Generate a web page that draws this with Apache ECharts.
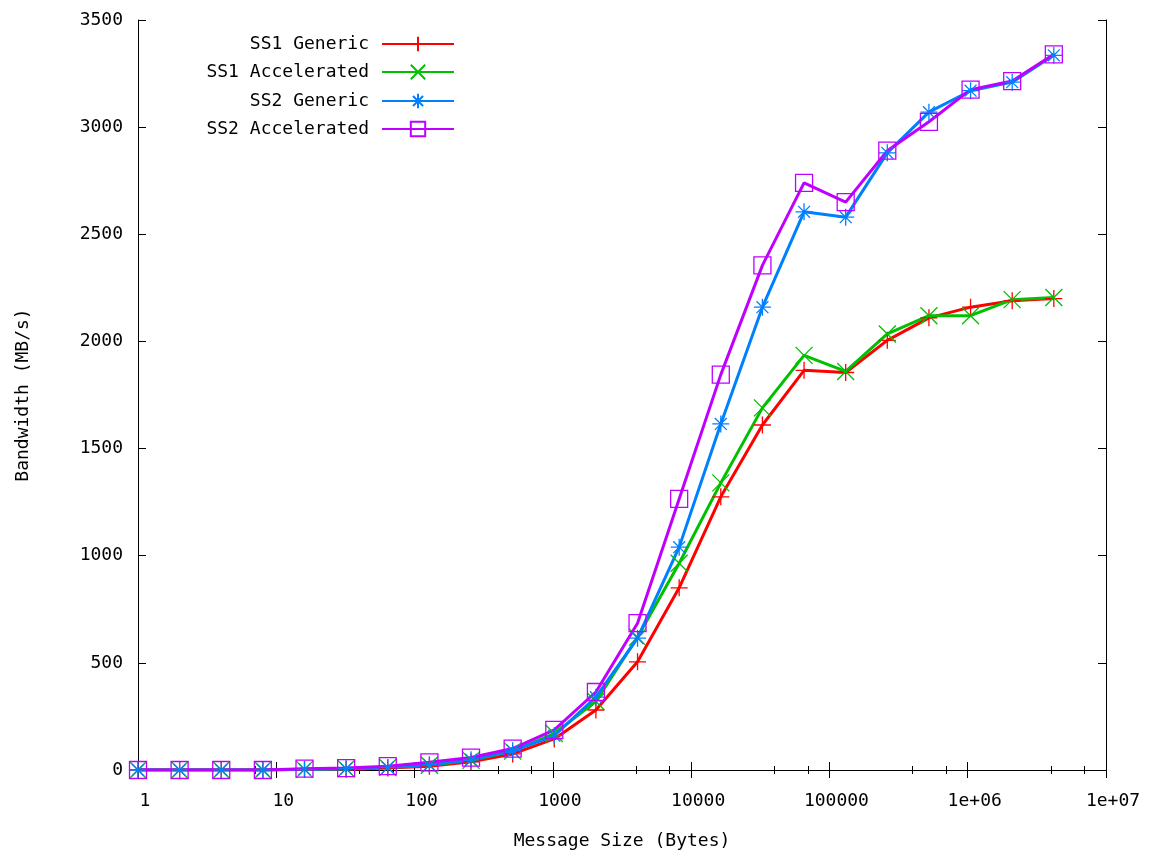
<!DOCTYPE html>
<html>
<head>
<meta charset="utf-8">
<script src="https://cdn.jsdelivr.net/npm/echarts@6/dist/echarts.min.js"></script>
<style>
    html, body { margin: 0; padding: 0; background: #fff; }
    #chart { width: 1150px; height: 857px; }
</style>
</head>
<body>
<div id="chart"></div>
<script>
// message sizes 1 .. 4M bytes (powers of two)
const messageSizes = [1, 2, 4, 8, 16, 32, 64, 128, 256, 512, 1024, 2048, 4096, 8192,
    16384, 32768, 65536, 131072, 262144, 524288, 1048576, 2097152, 4194304];

const ss1Generic = [0, 0, 0, 0, 2, 4, 9, 18, 38, 75, 145, 280, 505, 850,
    1275, 1610, 1865, 1855, 2005, 2110, 2160, 2190, 2200];
const ss1Accelerated = [0, 0, 0, 0, 3, 6, 12, 22, 45, 88, 170, 320, 620, 965,
    1340, 1690, 1935, 1860, 2035, 2120, 2120, 2195, 2205];
const ss2Generic = [0, 0, 0, 0, 3, 6, 12, 24, 48, 90, 160, 340, 615, 1040,
    1615, 2160, 2605, 2580, 2880, 3070, 3170, 3210, 3335];
const ss2Accelerated = [0, 0, 0, 0, 6, 9, 18, 36, 58, 100, 187, 364, 685, 1265,
    1845, 2355, 2740, 2650, 2890, 3025, 3175, 3215, 3340];

const seriesNames = ["SS1 Generic", "SS1 Accelerated", "SS2 Generic", "SS2 Accelerated"];
const seriesValues = [ss1Generic, ss1Accelerated, ss2Generic, ss2Accelerated];
const seriesColors = ["#ff0000", "#00c000", "#0080ff", "#c000ff"];
const seriesSymbols = [
    "path://M5,0L5,10M0,5L10,5",
    "path://M0,0L10,10M10,0L0,10",
    "path://M5,0L5,10M0,5L10,5M1.5,1.5L8.5,8.5M8.5,1.5L1.5,8.5",
    "path://M0,0L10,0L10,10L0,10Z",
];
const legendRowsTop = [30, 58, 87, 115];

const FONT = "DejaVu Sans Mono";
const chart = echarts.init(document.getElementById("chart"));

const baseX = {
    type: "log",
    logBase: 10,
    min: 1,
    max: 1e7,
    axisLine: { lineStyle: { color: "#000", width: 1 } },
    axisTick: { inside: true, length: 8, lineStyle: { color: "#000" } },
    minorTick: { show: true, splitNumber: 3, length: 4, lineStyle: { color: "#000" } },
    splitLine: { show: false },
};
const baseY = {
    type: "value",
    min: 0,
    max: 3500,
    interval: 500,
    axisLine: { show: true, lineStyle: { color: "#000", width: 1 } },
    axisTick: { show: true, inside: true, length: 8, lineStyle: { color: "#000" } },
    splitLine: { show: false },
};

chart.setOption({
    backgroundColor: "#fff",
    animation: false,
    textStyle: { fontFamily: FONT },
    grid: { left: 138, right: 44, top: 20, bottom: 87 },
    legend: seriesNames.map((name, i) => ({
        data: [name],
        right: 690,
        top: legendRowsTop[i],
        align: "right",
        itemWidth: 72,
        itemHeight: 18,
        textStyle: { fontFamily: FONT, fontSize: 18, color: "#000", padding: [0, 8, 0, 0] },
    })),
    xAxis: [
        Object.assign({}, baseX, {
            position: "bottom",
            name: "Message Size (Bytes)",
            nameLocation: "middle",
            nameGap: 62,
            nameTextStyle: { fontFamily: FONT, fontSize: 18, color: "#000" },
            axisLabel: {
                color: "#000",
                fontFamily: FONT,
                fontSize: 18,
                margin: 22,
                padding: [0, 0, 0, 14],
                formatter: (v) => {
                    const e = Math.round(Math.log10(v));
                    return e >= 6 ? "1e+0" + e : String(Math.round(v));
                },
            },
        }),
        Object.assign({}, baseX, { position: "top", axisLabel: { show: false } }),
    ],
    yAxis: [
        Object.assign({}, baseY, {
            position: "left",
            name: "Bandwidth (MB/s)",
            nameLocation: "middle",
            nameGap: 106,
            nameTextStyle: { fontFamily: FONT, fontSize: 18, color: "#000" },
            axisLabel: {
                color: "#000",
                fontFamily: FONT,
                fontSize: 18,
                margin: 15,
                formatter: (v) => String(v),
            },
        }),
        Object.assign({}, baseY, { position: "right", axisLabel: { show: false } }),
    ],
    series: seriesNames.map((name, i) => ({
        name: name,
        type: "line",
        xAxisIndex: 0,
        yAxisIndex: 0,
        data: messageSizes.map((s, j) => [s, seriesValues[i][j]]),
        symbol: seriesSymbols[i],
        symbolSize: 17,
        showAllSymbol: true,
        lineStyle: { color: seriesColors[i], width: 3 },
        itemStyle: { color: "rgba(0,0,0,0)", borderColor: seriesColors[i], borderWidth: 1.3 },
        emphasis: { disabled: true },
    })),
});
</script>
</body>
</html>
